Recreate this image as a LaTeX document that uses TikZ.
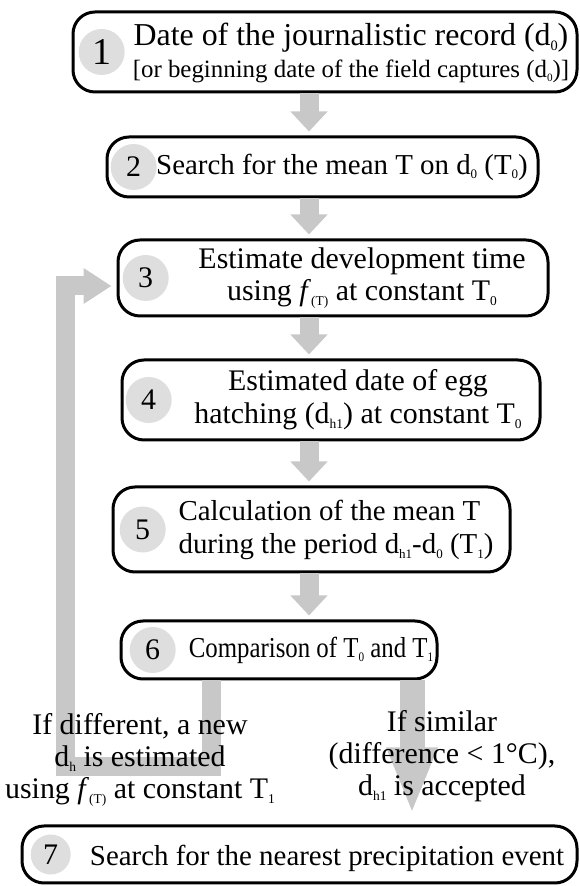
\documentclass[tikz,border=0pt]{standalone}
\usepackage{fontspec}
\setmainfont{Liberation Serif}
\usetikzlibrary{arrows.meta,positioning,calc}

\definecolor{flowgray}{RGB}{200,200,200}
\definecolor{dotgray}{RGB}{222,222,222}
\newcommand{\lowidx}[1]{\raisebox{-0.35ex}{\scalebox{0.45}{#1}}}

\begin{document}
\begin{tikzpicture}[line join=miter,
  stepbox/.style={draw,line width=3bp,rounded corners=22bp,inner sep=0pt},
  numdot/.style={circle,fill=dotgray,minimum size=46bp,inner sep=0pt,
    font=\fontsize{30}{30}\selectfont},
  steptext/.style={align=center,inner sep=0pt,font=\fontsize{29}{33}\selectfont},
  flow/.style={draw=flowgray,line width=19bp,-{Triangle[width=36bp,length=20bp]},
    shorten >=4bp},
]
%
  \useasboundingbox (0,0) rectangle (580bp,886bp);
  % step boxes
  \node (b1) at (325bp,834bp) [stepbox,minimum width=504bp,minimum height=80bp] {};
  \node (b2) at (322.5bp,719bp) [stepbox,minimum width=431bp,minimum height=60bp] {};
  \node (b3) at (333bp,608bp) [stepbox,minimum width=430bp,minimum height=76bp] {};
  \node (b4) at (331bp,486bp) [stepbox,minimum width=418bp,minimum height=80bp] {};
  \node (b5) at (311.5bp,356.5bp) [stepbox,minimum width=397bp,minimum height=85bp] {};
  \node (b6) at (279bp,236bp) [stepbox,minimum width=316bp,minimum height=58bp] {};
  \node (b7) at (299.5bp,31.5bp) [stepbox,minimum width=555bp,minimum height=57bp] {};
  % numbers
  \node (n1) [numdot,right=7bp of b1.west,font=\fontsize{38}{38}\selectfont] {1};
  \node (n2) [numdot,right=5bp of b2.west] {2};
  \node (n3) [numdot,right=6bp of b3.west] {3};
  \node (n4) [numdot,right=5bp of b4.west] {4};
  \node (n5) [numdot,right=8bp of b5.west] {5};
  \node (n6) [numdot,right=10bp of b6.west] {6};
  \node (n7) [numdot,right=10bp of b7.west,minimum size=40bp] {7};
  % arrows
  \coordinate (spine) at (309bp,0bp);
  \draw [flow] (b1.south -| spine) -- (b2.north -| spine);
  \draw [flow] (b2.south -| spine) -- (b3.north -| spine);
  \draw [flow] (b3.south -| spine) -- (b4.north -| spine);
  \draw [flow] (b4.south -| spine) -- (b5.north -| spine);
  \draw [flow] (b5.south -| spine) -- (b6.north -| spine);
  \coordinate (diffdown) at (211bp,119bp);
  \coordinate (diffturn) at (65bp,119bp);
  \draw [flow,-{Triangle[width=34bp,length=28bp]},shorten >=5bp]
    (b6.south -| diffdown) -- (diffdown) -- (diffturn) |- ([yshift=-8bp]b3.west);
  \coordinate (simdown) at (412bp,0bp);
  \draw [flow,line width=25bp,-{Triangle[width=46bp,length=67bp]},shorten >=10bp]
    (b6.south -| simdown) -- (b7.north -| simdown);
  % texts
  \node (t1) at (351bp,833bp) [steptext]
    {\fontsize{32}{30}\selectfont Date of the journalistic record (d\lowidx{0})\\
     \fontsize{25}{30}\selectfont [or beginning date of the field captures (d\lowidx{0})]};
  \node (t2) at (342bp,719bp) [steptext] {Search for the mean T on d\lowidx{0} (T\lowidx{0})};
  \node (t3) at (362bp,608bp) [steptext,font=\fontsize{30}{33}\selectfont]
    {Estimate development time\\using \textit{f}\lowidx{(T)} at constant T\lowidx{0}};
  \node (t4) at (358bp,486bp) [steptext,font=\fontsize{30}{33}\selectfont]
    {Estimated date of egg\\hatching (d\lowidx{h1}) at constant T\lowidx{0}};
  \node (t5) at (336bp,356bp) [steptext,align=left]
    {Calculation of the mean T\\during the period d\lowidx{h1}-d\lowidx{0} (T\lowidx{1})};
  \node (t6) at (311bp,236bp) [steptext]
    {\scalebox{0.86}[1]{Comparison of T\lowidx{0} and T\lowidx{1}}};
  \node (t7) at (327bp,28bp) [steptext] {Search for the nearest precipitation event};
  \node (ifdiff) at (140bp,126bp) [steptext,font=\fontsize{30}{32}\selectfont]
    {If different, a new\\d\lowidx{h} is estimated\\using \textit{f}\lowidx{(T)} at constant T\lowidx{1}};
  \node (ifsim) at (442bp,130bp) [steptext,font=\fontsize{30}{32}\selectfont]
    {If similar\\(difference < 1°C),\\d\lowidx{h1} is accepted};
%
\end{tikzpicture}
\end{document}
